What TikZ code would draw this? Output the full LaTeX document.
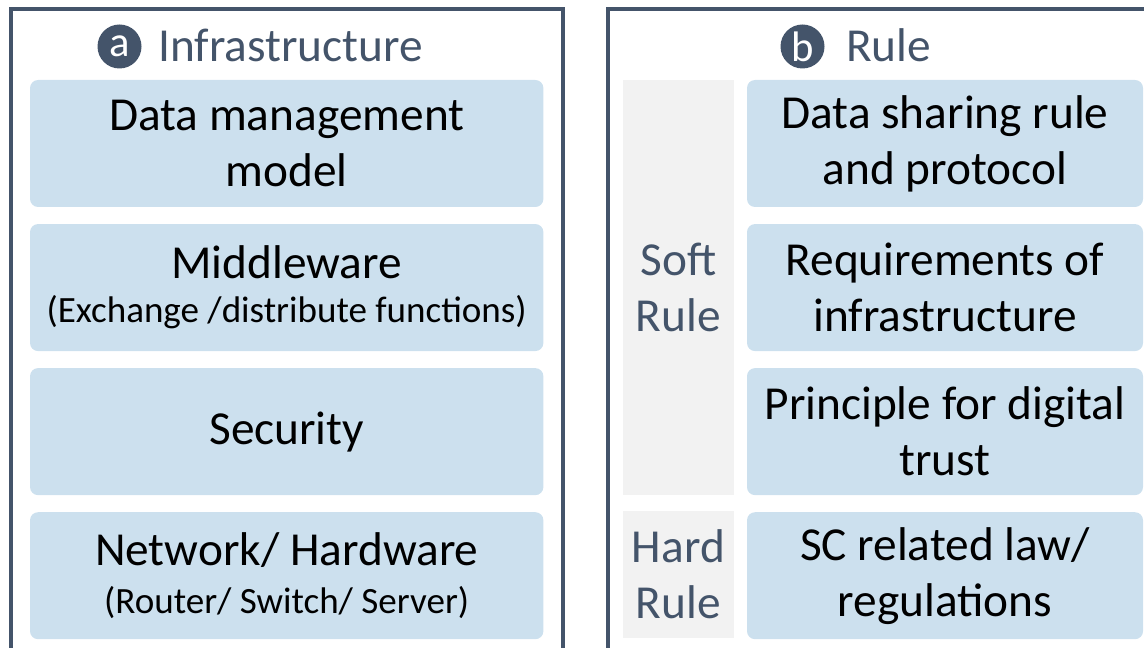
\documentclass[tikz,border=0pt]{standalone}
\usepackage{fontspec}
\setmainfont{Carlito}
\usetikzlibrary{positioning}

\definecolor{slate}{HTML}{44546A}
\definecolor{paleblue}{HTML}{CCE0EE}
\definecolor{softgray}{HTML}{F2F2F2}

\newcommand\bodyfont{\fontsize{35.5}{42}\selectfont}
\newcommand\notefont{\fontsize{27.8}{33}\selectfont}
\newcommand\badgefont{\fontsize{32}{36}\selectfont}

\begin{document}
\begin{tikzpicture}[x=0.75pt, y=-0.75pt,
    layer/.style={fill=paleblue, rounded corners=6pt, minimum width=385pt,
        minimum height=95.25pt, inner sep=0pt, align=center, font=\bodyfont},
    rulebox/.style={layer, minimum width=297pt},
    kind/.style={fill=softgray, minimum width=83.5pt, inner sep=0pt,
        align=center, font=\bodyfont, text=slate},
    badge/.style={circle, fill=slate, text=white, minimum size=33pt,
        inner sep=0pt, font=\badgefont},
    heading/.style={anchor=base west, text=slate, font=\bodyfont, inner sep=0pt},
    panel/.style={draw=slate, line width=3pt}]

    \useasboundingbox (0,0) rectangle (1144,648);
    \clip (0,0) rectangle (1144,648);

    % ---------- panels ----------
    \draw[panel] (11,9.5) rectangle (562.7,700);
    \draw[panel] (608,9.5) rectangle (1200,700);

    % ---------- a: infrastructure ----------
    \node[badge] (ba) at (119.5,46.5) {a};
    \node[heading] (infra) at (158,62) {Infrastructure};
    \node[layer] (dmm) at (286.7,143.5) {Data management\\model};
    \node[layer, below=12.4pt of dmm] (mid)
        {Middleware\\[-9pt]{\notefont (Exchange /distribute functions)}};
    \node[layer, below=12.4pt of mid] (sec) {Security};
    \node[layer, below=12.4pt of sec] (net)
        {Network/ Hardware\\[-6pt]{\notefont (Router/ Switch/ Server)}};

    % ---------- b: rule ----------
    \node[badge] (bb) at (802.5,46.5) {b};
    \node[heading] (rule) at (846,62) {Rule};
    \node[kind, minimum height=311pt] (soft) at (678.4,287.2) {Soft\\Rule};
    \node[kind, minimum height=95.25pt] (hard) at (678.4,574.2) {Hard\\Rule};
    \node[rulebox] (share) at (945,143.5) {Data sharing rule\\and protocol};
    \node[rulebox, below=12.4pt of share] (req) {Requirements of\\infrastructure};
    \node[rulebox, below=12.4pt of req] (trust) {Principle for digital\\trust};
    \node[rulebox, below=12.4pt of trust] (law) {SC related law/\\regulations};
\end{tikzpicture}
\end{document}
